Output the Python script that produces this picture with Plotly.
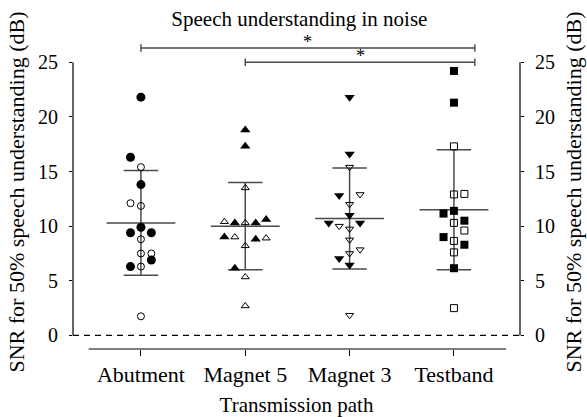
import plotly.graph_objects as go

# ---------------- data ----------------
categories = ["Abutment", "Magnet 5", "Magnet 3", "Testband"]

abutment_filled = [21.8, 16.3, 13.8, 9.9, 9.4, 9.4, 6.9, 6.3]
abutment_filled_slot = [0, -1, 0, 0, -1, 1, 1, -1]
abutment_open = [15.4, 12.1, 11.85, 8.8, 7.5, 7.5, 6.3, 1.75]
abutment_open_slot = [0, -1, 0, 0, 0, 1, 0, 0]

magnet5_filled = [18.8, 17.3, 10.3, 10.3, 10.6, 9.0, 8.8, 6.15]
magnet5_filled_slot = [0, 0, -1, 1, 2, -2, 1, -1]
magnet5_open = [13.5, 10.4, 10.3, 9.0, 8.9, 8.2, 5.35, 2.7]
magnet5_open_slot = [0, -2, 0, -1, 2, 0, 0, 0]

magnet3_filled = [21.8, 16.6, 12.8, 11.0, 10.3, 10.3, 7.05, 6.45]
magnet3_filled_slot = [0, 0, -1, 0, -2, 1, -1, 0]
magnet3_open = [15.4, 12.9, 12.0, 10.0, 9.75, 8.75, 7.85, 7.5, 1.85]
magnet3_open_slot = [0, 1, 0, -1, 0, 0, 1, 0, 0]

testband_filled = [24.2, 21.3, 11.4, 11.15, 10.5, 9.0, 8.3, 6.15]
testband_filled_slot = [0, 0, 0, -1, 1, -1, 1, 0]
testband_open = [17.3, 12.9, 12.95, 10.3, 9.6, 8.65, 7.6, 2.5]
testband_open_slot = [0, 0, 1, 0, 1, 0, 0, 0]

means = [10.3, 10.0, 10.7, 11.5]
sds = [4.8, 4.0, 4.63, 5.5]

# significance comparisons: (from category index, to category index)
sig_pairs = [(0, 3), (1, 3)]
sig_labels = ["*", "*"]
sig_levels = [26.3, 25.0]

y_ticks = [0, 5, 10, 15, 20, 25]

# ---------------- styling ----------------
FONT = "Liberation Serif"
SLOT = 0.1
CAP = 0.165
MEANW = 0.33
LINEC = "#4a4a4a"

fig = go.Figure()

# SD bars and mean lines
for i, (m, s) in enumerate(zip(means, sds)):
    xs = [i, i, None, i - CAP, i + CAP, None, i - CAP, i + CAP, None, i - MEANW, i + MEANW]
    ys = [m - s, m + s, None, m + s, m + s, None, m - s, m - s, None, m, m]
    fig.add_trace(go.Scatter(x=xs, y=ys, mode="lines",
                             line=dict(color=LINEC, width=1.5),
                             hoverinfo="skip", showlegend=False))

groups = [
    (abutment_filled, abutment_filled_slot, abutment_open, abutment_open_slot, "circle"),
    (magnet5_filled, magnet5_filled_slot, magnet5_open, magnet5_open_slot, "triangle-up"),
    (magnet3_filled, magnet3_filled_slot, magnet3_open, magnet3_open_slot, "triangle-down"),
    (testband_filled, testband_filled_slot, testband_open, testband_open_slot, "square"),
]
for i, (fv, fs, ov, os_, sym) in enumerate(groups):
    fig.add_trace(go.Scatter(
        x=[i + s * SLOT for s in fs], y=fv, mode="markers",
        marker=dict(symbol=sym, size=9 if sym != "square" else 8, color="black",
                    line=dict(width=0)),
        showlegend=False))
    fig.add_trace(go.Scatter(
        x=[i + s * SLOT for s in os_], y=ov, mode="markers",
        marker=dict(symbol=sym + "-open", size=7, color="black",
                    line=dict(width=1, color="black")),
        showlegend=False))

# significance bars
for (a, b), lvl, lab in zip(sig_pairs, sig_levels, sig_labels):
    x_end = b + 0.2
    h = 0.35
    fig.add_trace(go.Scatter(
        x=[a, x_end, None, a, a, None, x_end, x_end],
        y=[lvl, lvl, None, lvl - h, lvl + h, None, lvl - h, lvl + h],
        mode="lines", line=dict(color=LINEC, width=1.4),
        hoverinfo="skip", showlegend=False, cliponaxis=False))
    fig.add_annotation(x=(a + x_end) / 2, y=lvl, text=lab, showarrow=False,
                       yanchor="bottom", yshift=-6,
                       font=dict(family=FONT, size=18, color="black"))

# invisible trace for right axis
fig.add_trace(go.Scatter(x=[0], y=[0], yaxis="y2", mode="markers",
                         marker=dict(opacity=0), hoverinfo="skip", showlegend=False))

# axis spines / baseline
fig.add_shape(type="line", xref="paper", yref="y", x0=0, x1=0, y0=0, y1=25,
              line=dict(color="black", width=1.2))
fig.add_shape(type="line", xref="paper", yref="y", x0=1, x1=1, y0=0, y1=25,
              line=dict(color="black", width=1.2))
fig.add_shape(type="line", xref="paper", yref="y", x0=0, x1=1, y0=0, y1=0,
              line=dict(color="black", width=1.2, dash="6px,5px"))
fig.add_shape(type="line", xref="x", yref="paper", x0=-0.5, x1=3.5, y0=0, y1=0,
              line=dict(color="black", width=1.2))

yr = [-1.24, 27.49]
axis_common = dict(range=yr, tickvals=y_ticks, ticks="outside", ticklen=3,
                   tickwidth=1.2, tickcolor="black", showline=False, zeroline=False,
                   showgrid=False, automargin=False, ticklabelstandoff=7,
                   tickfont=dict(family=FONT, size=20, color="black"),
                   fixedrange=True)

fig.update_layout(
    width=587, height=417,
    margin=dict(l=73, r=67, t=35, b=68),
    paper_bgcolor="white", plot_bgcolor="white",
    font=dict(family=FONT, size=21, color="black"),
    xaxis=dict(range=[-0.651, 3.633], tickvals=[0, 1, 2, 3], ticktext=categories,
               ticks="outside", ticklen=6, tickwidth=1.2, tickcolor="black",
               showline=False, zeroline=False, showgrid=False, automargin=False,
               fixedrange=True,
               tickfont=dict(family=FONT, size=22, color="black"),
               title=dict(text="Transmission path", standoff=12,
                          font=dict(family=FONT, size=21))),
    yaxis=dict(**axis_common,
               title=dict(text="SNR for 50% speech understanding (dB)", standoff=7,
                          font=dict(family=FONT, size=22))),
    yaxis2=dict(**axis_common, overlaying="y", side="right",
                title=dict(text="SNR for 50% speech understanding (dB)", standoff=11,
                           font=dict(family=FONT, size=22))),
    title=dict(text="Speech understanding in noise", x=0.51, xanchor="center",
               y=0.955, yanchor="middle", font=dict(family=FONT, size=21)),
)

fig.write_html("out.html", config={"displayModeBar": False},
               post_script="document.body.style.margin='0';document.body.style.overflow='hidden';")
